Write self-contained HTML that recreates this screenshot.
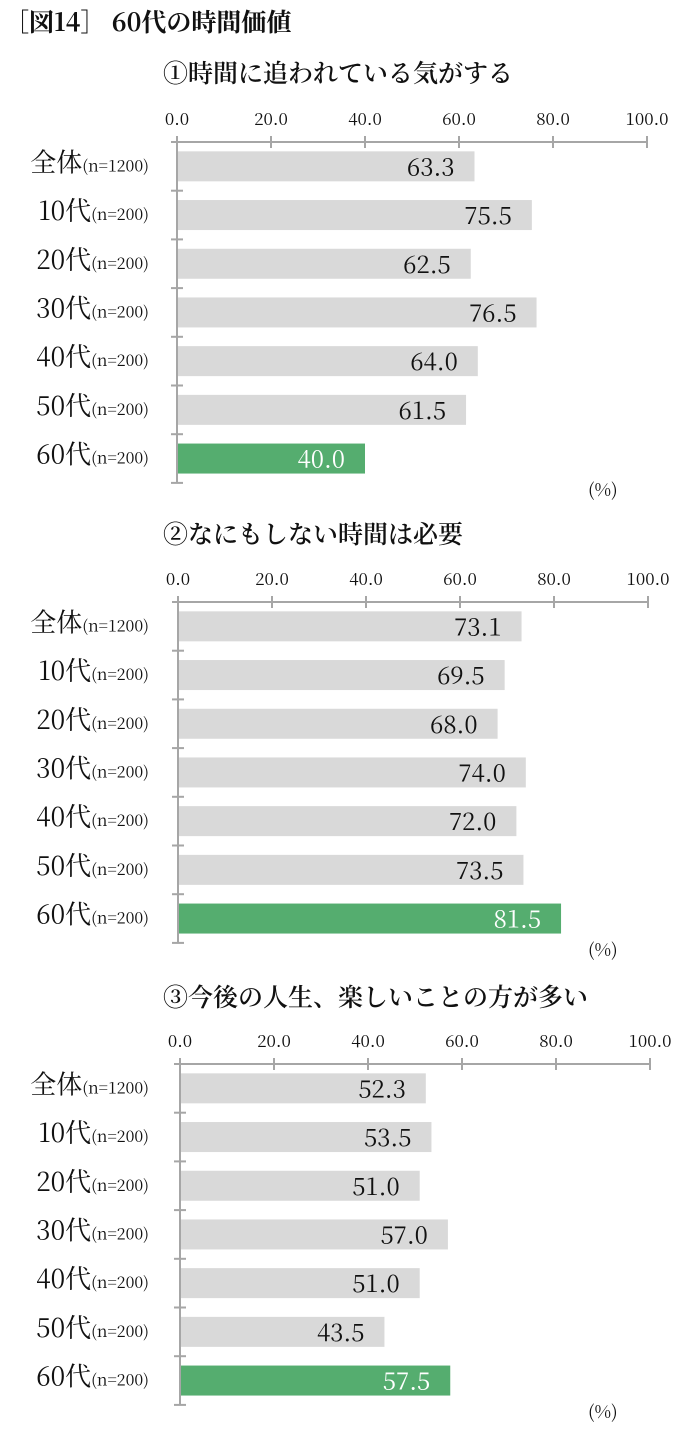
<!DOCTYPE html>
<html><head><meta charset="utf-8"><style>
body{margin:0;background:#fff;width:684px;height:1432px;overflow:hidden;}
svg text{font-family:"Noto Serif CJK JP","Liberation Serif",serif;}
</style></head><body>
<svg id="s" width="684" height="1432">
<text x="4" y="31" font-size="25" font-weight="bold" fill="#111">［図14］ 60代の時間価値</text>
</svg>
<script>
const categories=["全体","10代","20代","30代","40代","50代","60代"];
const samples=["(n=1200)","(n=200)","(n=200)","(n=200)","(n=200)","(n=200)","(n=200)"];
const ticks=[0,20,40,60,80,100];
const titles=["①時間に追われている気がする","②なにもしない時間は必要","③今後の人生、楽しいことの方が多い"];
const values1=[63.3,75.5,62.5,76.5,64.0,61.5,40.0];
const values2=[73.1,69.5,68.0,74.0,72.0,73.5,81.5];
const values3=[52.3,53.5,51.0,57.0,51.0,43.5,57.5];
const series=[values1,values2,values3];
const svg=document.getElementById('s');
const NS="http://www.w3.org/2000/svg";
function mk(tag,attrs,parent){const e=document.createElementNS(NS,tag);for(const k in attrs)e.setAttribute(k,attrs[k]);(parent||svg).appendChild(e);return e;}
const layouts=[{ty:82,ay:142,x0:177},{ty:543,ay:602,x0:178},{ty:1006,ay:1064,x0:180}];
const band=48.7,scale=4.7;
layouts.forEach((L,ci)=>{
  const g=mk('g',{});
  
  
  const x=v=>L.x0+v*scale;
  const t=mk('text',{x:163,y:L.ty,'font-size':25,'font-weight':600,fill:'#111'},g);t.textContent=titles[ci];
  
  
  const ax=mk('line',{x1:L.x0,x2:x(100),y1:L.ay,y2:L.ay,stroke:'#a6a6a6','stroke-width':2},g);
  
  
  ticks.forEach(v=>{
    mk('line',{x1:x(v),x2:x(v),y1:L.ay-6,y2:L.ay+6,stroke:'#a6a6a6','stroke-width':2},g);
    const tl=mk('text',{x:x(v),y:L.ay-17,'font-size':17,'text-anchor':'middle',fill:'#111'},g);tl.textContent=v.toFixed(1);
    
    
  });
  const n=categories.length;
  const ya=mk('line',{x1:L.x0,x2:L.x0,y1:L.ay,y2:L.ay+n*band,stroke:'#a6a6a6','stroke-width':2},g);
  
  
  for(let i=0;i<=n;i++)mk('line',{x1:L.x0-6,x2:L.x0+6,y1:L.ay+i*band,y2:L.ay+i*band,stroke:'#a6a6a6','stroke-width':2},g);
  series[ci].forEach((v,i)=>{
    const cy=L.ay+(i+0.5)*band;
    const last=i===n-1;
    const b=mk('rect',{x:L.x0+1,y:cy-15,width:x(v)-L.x0-1,height:30,fill:last?'#55ad6f':'#d9d9d9'},g);
    
    
    const vl=mk('text',{x:x(v)-20,y:cy+9,'font-size':24,'text-anchor':'end',fill:last?'#fff':'#111'},g);vl.textContent=v.toFixed(1);
    
    
    const cl=mk('text',{x:149,y:cy+5,'text-anchor':'end',fill:'#111'},g);
    
    
    const a=mk('tspan',{'font-size':26},cl);a.textContent=categories[i];
    const s=mk('tspan',{'font-size':16},cl);s.textContent=samples[i];
  });
  const p=mk('text',{x:588,y:L.ay+n*band+13,'font-size':18,fill:'#111'},g);p.textContent='(%)';
  
  
});
</script>
</body></html>
